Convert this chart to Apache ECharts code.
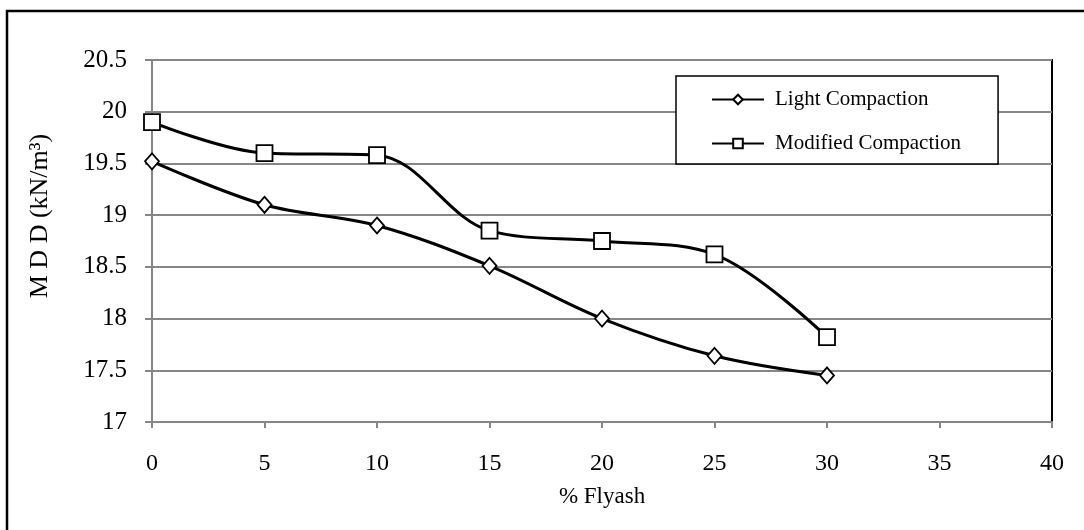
<!DOCTYPE html>
<html><head><meta charset="utf-8">
<script src="https://cdn.jsdelivr.net/npm/echarts@6/dist/echarts.min.js"></script>
<style>html,body{margin:0;padding:0;background:#fff}#c{width:1084px;height:530px}</style>
</head><body><div id="c"></div>
<script>
var flyash = [0, 5, 10, 15, 20, 25, 30];
var lightCompaction = [19.52, 19.10, 18.90, 18.51, 18.00, 17.64, 17.45];
var modifiedCompaction = [19.90, 19.60, 19.58, 18.85, 18.75, 18.62, 17.82];
var seriesNames = ['Light Compaction', 'Modified Compaction'];
var xName = '% Flyash';
var yName = 'M D D (kN/m³)';

function pairs(xs, ys){ return xs.map(function(x,i){return [x, ys[i]];}); }

var chart = echarts.init(document.getElementById('c'), null, {renderer:'canvas'});
var font = 'Liberation Serif';
chart.setOption({
  animation:false,
  backgroundColor:'#fff',
  textStyle:{fontFamily:font},
  graphic:[{type:'rect', shape:{x:7, y:11, width:1200, height:600}, style:{fill:null, stroke:'#000', lineWidth:2.5}, z:-1, silent:true}],
  grid:{left:152, right:32, top:60, bottom:108, show:true, borderColor:'#000', borderWidth:2, backgroundColor:'transparent'},
  legend:{
    orient:'vertical', left:676, top:76,
    backgroundColor:'#fff', borderColor:'#000', borderWidth:1.5,
    padding:[13, 37, 10, 35], itemGap:23, itemWidth:52, itemHeight:12,
    textStyle:{fontFamily:font, fontSize:21, color:'#000', padding:[0,0,0,6]},
    data:seriesNames
  },
  xAxis:{
    type:'value', min:0, max:40, interval:5,
    name:xName, nameLocation:'middle', nameGap:63,
    nameTextStyle:{fontFamily:font, fontSize:23, color:'#000'},
    axisLine:{lineStyle:{color:'#868686', width:2}},
    axisTick:{show:true, length:6, lineStyle:{color:'#868686', width:2}},
    axisLabel:{fontFamily:font, fontSize:24, color:'#000', margin:30},
    splitLine:{show:false}
  },
  yAxis:{
    type:'value', min:17, max:20.5, interval:0.5,
    name:yName, nameLocation:'middle', nameGap:99, nameRotate:90,
    nameTextStyle:{fontFamily:font, fontSize:26, color:'#000', padding:[0,0,0,50]},
    axisLine:{show:true, lineStyle:{color:'#868686', width:2}},
    axisTick:{show:true, length:7, lineStyle:{color:'#868686', width:2}},
    axisLabel:{fontFamily:font, fontSize:25, color:'#000', margin:25},
    splitLine:{show:true, lineStyle:{color:'#868686', width:2}}
  },
  series:[
    {name:seriesNames[0], type:'line', smooth:0.35, data:pairs(flyash, lightCompaction),
     symbol:'diamond', symbolSize:[14,16], lineStyle:{color:'#000', width:3},
     itemStyle:{color:'#fff', borderColor:'#000', borderWidth:1.8}, z:3},
    {name:seriesNames[1], type:'line', smooth:0.35, data:pairs(flyash, modifiedCompaction),
     symbol:'rect', symbolSize:16, lineStyle:{color:'#000', width:3},
     itemStyle:{color:'#fff', borderColor:'#000', borderWidth:1.8}, z:3}
  ]
});
</script></body></html>
